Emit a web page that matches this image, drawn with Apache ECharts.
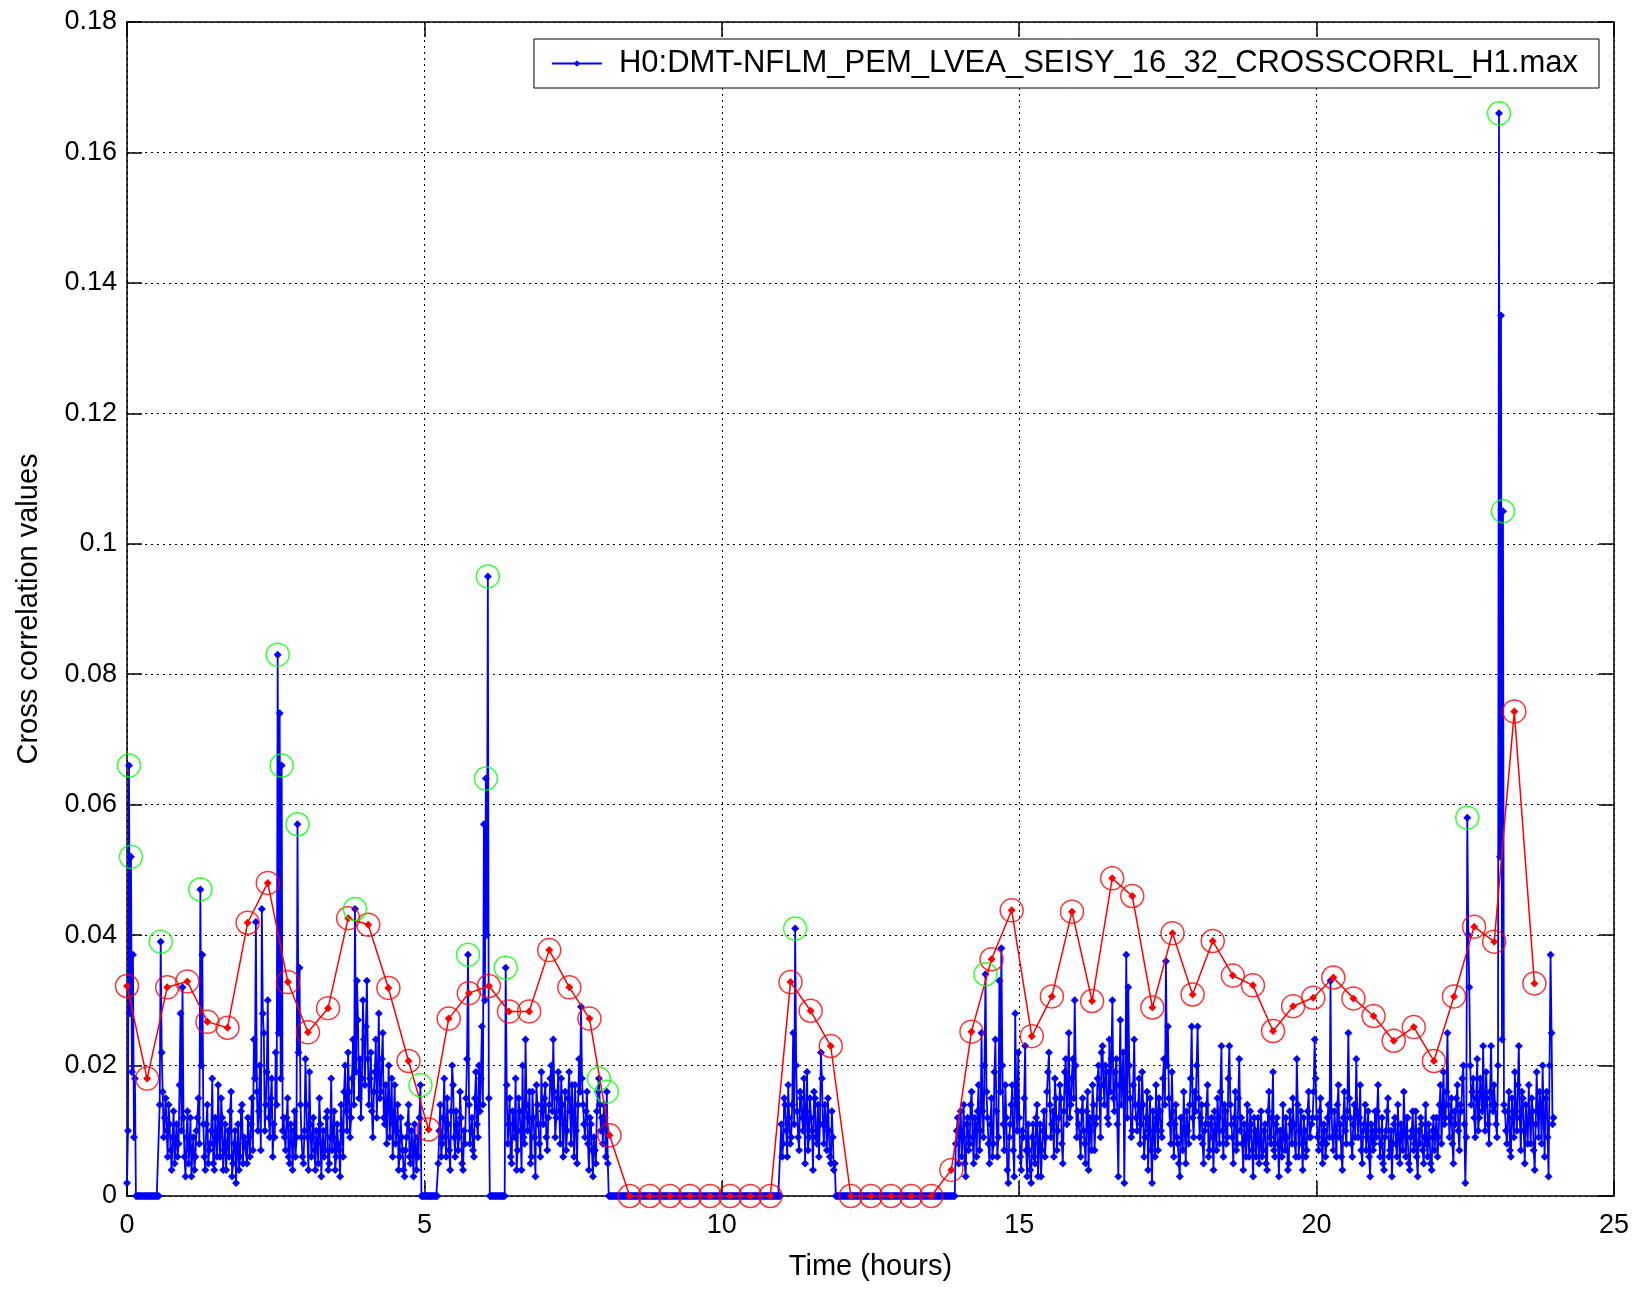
<!DOCTYPE html>
<html>
<head>
<meta charset="utf-8">
<title>CROSSCORRL H1 max</title>
<script src="https://cdn.jsdelivr.net/npm/echarts@6.0.0/dist/echarts.min.js"></script>
<style>
  html, body { margin: 0; padding: 0; background: #fff; }
  #chart { width: 1635px; height: 1289px; }
</style>
</head>
<body>
<div id="chart"></div>
<script>
// blue channel, one row per hour, in units of 0.001
// hNN = samples on the even minutes, oNN = samples on the odd minutes
const h00 = [2,66,52,37,18,0,0,0,0,0,0,0,0,0,0,0,0,39,16,12,10,14,7,9,5,11,8,28,32,6];
const o00 = [10,28,19,9,0,0,0,0,0,0,0,0,0,0,0,0,14,22,9,15,6,11,4,13,8,6,17,10,12,3];
const h01 = [9,5,12,7,4,10,15,47,37,6,11,5,8,18,4,9,17,6,12,7,4,10,13,3,8,2,11,6,14,9];
const o01 = [13,7,3,9,6,12,8,20,11,4,14,7,10,5,12,6,9,15,4,11,8,6,16,5,10,7,4,13,5,8];
const h02 = [8,12,6,15,24,42,10,20,44,25,14,30,9,18,11,22,83,74,66,12,7,15,5,10,8,6,57,35,9,5];
const o02 = [5,9,11,7,18,16,13,7,28,10,19,12,15,6,9,14,25,18,10,9,12,6,11,4,13,9,22,14,6,10];
const h03 = [21,9,19,6,12,4,8,15,3,10,7,13,5,18,9,4,11,7,14,6,20,10,16,12,24,44,33,15,12,30];
const o03 = [14,4,11,9,7,10,5,11,8,6,12,4,9,7,13,6,8,3,10,16,13,22,9,18,14,19,27,21,18,24];
const h04 = [17,33,14,22,9,19,12,28,16,25,11,8,20,13,6,17,10,4,12,7,3,9,14,5,8,11,4,6,17,0];
const o04 = [26,21,18,13,16,24,19,15,21,12,17,14,9,18,11,8,14,6,9,4,7,11,6,10,3,7,9,12,0,0];
const h05 = [0,0,0,0,0,0,0,5,14,8,18,6,11,4,20,9,13,7,16,5,10,15,37,8,12,6,19,9,13,26];
const o05 = [0,0,0,0,0,0,0,10,6,12,9,15,7,13,17,6,11,9,12,4,8,21,14,10,7,15,11,20,18,14];
const h06 = [57,64,95,0,0,0,0,0,0,0,0,35,8,15,5,11,18,7,13,4,9,24,10,16,6,12,3,14,8,19];
const o06 = [30,40,15,0,0,0,0,0,0,0,0,17,11,6,13,9,4,15,10,20,8,14,12,5,16,9,17,11,6,13];
const h07 = [11,17,7,14,20,24,9,15,13,18,6,16,10,19,8,12,17,5,21,29,14,9,16,4,11,3,7,13,18,10];
const o07 = [15,9,12,18,13,16,12,19,8,14,11,7,15,13,17,6,10,14,16,18,11,13,8,12,7,9,5,16,14,12];
const h08 = [8,12,16,0,0,0,0,0,0,0,0,0,0,0,0,0,0,0,0,0,0,0,0,0,0,0,0,0,0,0];
const o08 = [14,6,5,0,0,0,0,0,0,0,0,0,0,0,0,0,0,0,0,0,0,0,0,0,0,0,0,0,0,0];
const h09 = [0,0,0,0,0,0,0,0,0,0,0,0,0,0,0,0,0,0,0,0,0,0,0,0,0,0,0,0,0,0];
const o09 = [0,0,0,0,0,0,0,0,0,0,0,0,0,0,0,0,0,0,0,0,0,0,0,0,0,0,0,0,0,0];
const h10 = [0,0,0,0,0,0,0,0,0,0,0,0,0,0,0,0,0,0,0,0,0,0,0,0,0,0,0,0,0,0];
const o10 = [0,0,0,0,0,0,0,0,0,0,0,0,0,0,0,0,0,0,0,0,0,0,0,0,0,0,0,0,0,0];
const h11 = [11,8,14,6,12,9,25,41,13,7,15,10,5,19,9,12,4,15,8,6,22,11,14,7,10,5,9,5,0,0];
const o11 = [6,15,10,17,8,14,11,20,9,16,12,18,13,7,15,10,16,9,14,11,18,8,12,15,6,13,4,0,0,0];
const h12 = [0,0,0,0,0,0,0,0,0,0,0,0,0,0,0,0,0,0,0,0,0,0,0,0,0,0,0,0,0,0];
const o12 = [0,0,0,0,0,0,0,0,0,0,0,0,0,0,0,0,0,0,0,0,0,0,0,0,0,0,0,0,0,0];
const h13 = [0,0,0,0,0,0,0,0,0,0,0,0,0,0,0,0,0,0,0,0,0,0,0,0,0,0,0,0,8,12];
const o13 = [0,0,0,0,0,0,0,0,0,0,0,0,0,0,0,0,0,0,0,0,0,0,0,0,0,0,0,0,10,5];
const h14 = [10,6,14,3,12,8,16,5,11,13,7,25,9,34,12,5,15,8,24,6,33,38,11,17,4,9,14,7,28,10];
const o14 = [13,9,5,11,7,14,9,12,6,17,10,13,20,16,8,11,6,19,13,9,16,20,7,12,2,11,17,3,15,22];
const h15 = [12,4,9,23,3,7,2,11,5,14,8,3,10,6,16,22,9,13,18,7,12,15,5,19,11,25,14,21,30,9];
const o15 = [6,10,15,7,11,4,9,6,12,3,11,7,13,9,19,14,11,6,15,10,17,8,13,21,16,12,18,15,20,13];
const h16 = [11,6,15,8,13,4,10,17,7,12,20,9,23,14,19,11,16,30,13,21,3,27,18,2,37,32,15,10,24,12];
const o16 = [9,13,10,5,16,12,7,14,11,18,15,22,17,20,12,24,21,15,19,11,17,14,22,16,12,20,9,17,14,10];
const h17 = [14,8,19,6,12,4,15,2,10,17,7,13,9,21,36,26,11,19,6,14,8,3,12,16,5,10,14,26,9,13];
const o17 = [18,11,14,9,16,10,7,13,6,12,15,10,18,14,20,15,8,13,11,9,5,12,7,10,13,8,18,12,16,20];
const h18 = [26,9,14,5,11,17,7,12,4,10,15,8,23,6,13,9,23,11,5,16,8,21,12,4,9,14,6,11,3,10];
const o18 = [15,12,8,10,14,6,11,9,13,7,12,16,10,14,8,18,14,9,12,7,15,10,8,11,6,9,13,7,12,6];
const h19 = [9,5,13,7,11,4,16,8,19,6,12,3,10,14,7,9,5,11,15,8,21,6,13,4,10,7,16,9,12,24];
const o19 = [12,8,6,10,5,13,9,12,7,11,8,10,6,9,12,4,13,8,11,6,14,10,8,12,6,13,9,11,16,18];
const h20 = [12,7,15,5,10,8,14,33,9,13,6,17,11,4,16,8,25,12,6,14,21,9,17,5,11,7,13,3,10,8];
const o20 = [9,13,8,11,6,12,9,13,7,10,14,9,6,12,10,13,15,8,11,9,13,12,7,10,14,9,6,11,7,13];
const h21 = [9,17,6,12,4,10,15,7,3,11,8,14,5,9,16,6,12,4,10,7,13,3,8,11,5,14,6,9,4,12];
const o21 = [13,10,8,5,9,13,6,10,8,12,6,9,11,7,10,12,5,9,13,8,6,10,12,7,9,8,11,5,10,7];
const h22 = [10,6,14,8,19,12,25,9,15,5,11,17,7,13,20,2,58,32,14,18,9,21,12,16,23,10,15,8,23,13];
const o22 = [12,9,17,13,11,16,14,12,8,13,15,10,14,18,11,9,40,20,16,12,15,10,18,13,14,19,11,16,14,17];
const h23 = [14,9,166,135,105,13,8,16,6,12,19,10,23,7,15,5,11,17,8,13,4,19,9,14,20,6,16,3,37,11];
const o23 = [11,20,52,24,14,10,13,7,15,9,13,17,12,16,10,14,8,12,15,7,11,13,16,8,12,15,9,20,25,12];

const evenRows = [h00,h01,h02,h03,h04,h05,h06,h07,h08,h09,h10,h11,h12,h13,h14,h15,h16,h17,h18,h19,h20,h21,h22,h23];
const oddRows  = [o00,o01,o02,o03,o04,o05,o06,o07,o08,o09,o10,o11,o12,o13,o14,o15,o16,o17,o18,o19,o20,o21,o22,o23];

// red trend, 71 points, one every 24/71 hours
const redValues = [
  0.0322,0.018,0.032,0.0329,0.0267,0.0258,0.0419,0.048,0.0328,0.0251,
  0.0288,0.0426,0.0416,0.0319,0.0207,0.0102,0.0272,0.0311,0.0322,0.0283,
  0.0283,0.0377,0.032,0.0272,0.0093,0,0,0,0,0,
  0,0,0,0.0328,0.0284,0.023,0,0,0,0,
  0,0.004,0.0252,0.0363,0.0438,0.0245,0.0306,0.0436,0.0299,0.0487,
  0.046,0.0289,0.0403,0.0309,0.0391,0.0338,0.0323,0.0253,0.0291,0.0304,
  0.0335,0.0303,0.0276,0.0238,0.0259,0.0207,0.0306,0.0413,0.039,0.0743,
  0.0326
];
const redSpan = 24;

// blue samples circled in green: hour*30 + even-minute slot
const peakIdx = [1,2,17,37,76,78,86,115,148,172,181,182,191,238,242,337,433,676,692,694];

const yTicks = [0,0.02,0.04,0.06,0.08,0.1,0.12,0.14,0.16,0.18];
const xTicks = [0,5,10,15,20,25];

const blueName = 'H0:DMT-NFLM_PEM_LVEA_SEISY_16_32_CROSSCORRL_H1.max';
const font = '"Liberation Sans", Arial, Helvetica, sans-serif';

// build [t, v] pairs, one per minute
const blueData = [];
evenRows.forEach((row, h) => {
  row.forEach((v, j) => {
    blueData.push([h + (2 * j) / 60, v / 1000]);
    blueData.push([h + (2 * j + 1) / 60, oddRows[h][j] / 1000]);
  });
});
const redData = redValues.map((v, i) => [i * redSpan / redValues.length, v]);
const greenData = peakIdx.map(i => {
  const h = Math.floor(i / 30), j = i % 30;
  return [h + (2 * j) / 60, evenRows[h][j] / 1000];
});

const chart = echarts.init(document.getElementById('chart'), null, { renderer: 'canvas' });

const boxLine = { show: true, onZero: false, lineStyle: { color: '#000', width: 1.5 } };
const inTick = { show: true, inside: true, length: 15, lineStyle: { color: '#000', width: 1.5 } };
const dotGrid = { show: true, lineStyle: { color: '#000', width: 1, type: [2, 4] } };

chart.setOption({
  animation: false,
  backgroundColor: '#fff',
  grid: { left: 127, right: 21, top: 22, bottom: 93, containLabel: false },
  legend: {
    data: [blueName],
    right: 36,
    top: 39,
    backgroundColor: '#fff',
    borderColor: '#000',
    borderWidth: 1,
    borderRadius: 0,
    padding: [9, 21, 9, 17],
    itemWidth: 50,
    itemHeight: 8,
    textStyle: { fontSize: 31, fontFamily: font, color: '#000', padding: [0, 0, 0, 12] }
  },
  xAxis: [
    {
      type: 'value', min: 0, max: xTicks[xTicks.length - 1], interval: xTicks[1] - xTicks[0],
      position: 'bottom',
      axisLine: boxLine, axisTick: inTick, splitLine: dotGrid,
      axisLabel: { fontSize: 27, fontFamily: font, color: '#000', margin: 16 },
      name: 'Time (hours)', nameLocation: 'middle', nameGap: 56,
      nameTextStyle: { fontSize: 29, fontFamily: font, color: '#000' }
    },
    {
      type: 'value', min: 0, max: xTicks[xTicks.length - 1], interval: xTicks[1] - xTicks[0],
      position: 'top',
      axisLine: boxLine, axisTick: inTick, splitLine: { show: false },
      axisLabel: { show: false }
    }
  ],
  yAxis: [
    {
      type: 'value', min: 0, max: yTicks[yTicks.length - 1], interval: yTicks[1] - yTicks[0],
      position: 'left',
      axisLine: boxLine, axisTick: inTick, splitLine: dotGrid,
      axisLabel: {
        fontSize: 27, fontFamily: font, color: '#000', margin: 10,
        formatter: v => String(+v.toFixed(2))
      },
      name: 'Cross correlation values', nameLocation: 'middle', nameGap: 84,
      nameTextStyle: { fontSize: 29, fontFamily: font, color: '#000' }
    },
    {
      type: 'value', min: 0, max: yTicks[yTicks.length - 1], interval: yTicks[1] - yTicks[0],
      position: 'right',
      axisLine: boxLine, axisTick: inTick, splitLine: { show: false },
      axisLabel: { show: false }
    }
  ],
  series: [
    {
      name: blueName,
      type: 'line',
      data: blueData,
      symbol: 'diamond',
      symbolSize: 8,
      showAllSymbol: true,
      itemStyle: { color: '#0000ff' },
      lineStyle: { color: '#0000ff', width: 1.8 },
      z: 2
    },
    {
      name: 'trend',
      type: 'line',
      data: redData,
      symbol: 'diamond',
      symbolSize: 8,
      itemStyle: { color: '#ff0000' },
      lineStyle: { color: '#ff0000', width: 1.5 },
      z: 3
    },
    {
      name: 'trend marks',
      type: 'scatter',
      data: redData,
      symbol: 'circle',
      symbolSize: 23,
      itemStyle: { color: 'rgba(0,0,0,0)', borderColor: '#ff0000', borderWidth: 1.5 },
      z: 4
    },
    {
      name: 'peaks',
      type: 'scatter',
      data: greenData,
      symbol: 'circle',
      symbolSize: 23,
      itemStyle: { color: 'rgba(0,0,0,0)', borderColor: '#00ff00', borderWidth: 1.5 },
      z: 5
    }
  ]
});
</script>
</body>
</html>
